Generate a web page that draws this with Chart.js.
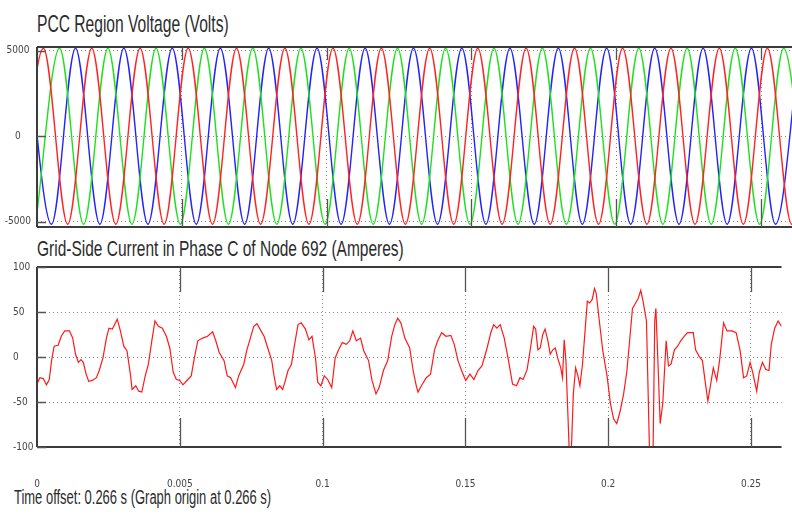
<!DOCTYPE html>
<html>
<head>
<meta charset="utf-8">
<script src="https://cdn.jsdelivr.net/npm/chart.js@4.4.0/dist/chart.umd.min.js"></script>
<style>
  body { margin: 0; background: #fff; width: 792px; height: 518px; overflow: hidden; position: relative;
         font-family: "Liberation Sans", Arial, sans-serif; }
  .cap { position: absolute; color: #2b2b2b; white-space: nowrap; transform-origin: 0 0; }
  #t1 { left: 37px; top: 12px; font-size: 24px; line-height: 24px; transform: scaleX(0.65); }
  #t2 { left: 37px; top: 238px; font-size: 22px; line-height: 22px; transform: scaleX(0.704); }
  #foot { left: 14px; top: 487px; font-size: 20px; line-height: 20px; transform: scaleX(0.648); }
  .panel { position: absolute; left: 0; }
  #p1 { top: 0; }
  #p2 { top: 240px; }
</style>
</head>
<body>
<div class="cap" id="t1">PCC Region Voltage (Volts)</div>
<div class="cap" id="t2">Grid-Side Current in Phase C of Node 692 (Amperes)</div>
<div class="cap" id="foot">Time offset: 0.266 s (Graph origin at 0.266 s)</div>
<div class="panel" id="p1"><canvas id="voltage" width="792" height="240"></canvas></div>
<div class="panel" id="p2"><canvas id="current" width="792" height="278"></canvas></div>

<script>
// x axis (seconds after the graph origin)
const xTickValues = [0, 0.05, 0.1, 0.15, 0.2, 0.25];
const xTickLabels = ["0", "0.005", "0.1", "0.15", "0.2", "0.25"];
const xMax = 0.2607;

// voltage: times of the peaks / troughs of each phase
const redT = [-0.0061, 0.0022, 0.0106, 0.0189, 0.0272, 0.0356, 0.0439, 0.0522, 0.0606, 0.0689, 0.0772, 0.0856,
  0.0939, 0.1022, 0.1106, 0.1189, 0.1272, 0.1356, 0.1439, 0.1522, 0.1606, 0.1689, 0.1772, 0.1856, 0.1939,
  0.2022, 0.2106, 0.2189, 0.2272, 0.2356, 0.2439, 0.2522, 0.2606, 0.2689];
const redV = [-5150, 5150, -5150, 5150, -5150, 5150, -5150, 5150, -5150, 5150, -5150, 5150, -5150, 5150, -5150,
  5150, -5150, 5150, -5150, 5150, -5150, 5150, -5150, 5150, -5150, 5150, -5150, 5150, -5150, 5150, -5150, 5150,
  -5150, 5150];
const greenT = [-0.0005, 0.0078, 0.0161, 0.0245, 0.0328, 0.0411, 0.0495, 0.0578, 0.0661, 0.0745, 0.0828, 0.0911,
  0.0995, 0.1078, 0.1161, 0.1245, 0.1328, 0.1411, 0.1495, 0.1578, 0.1661, 0.1745, 0.1828, 0.1911, 0.1995,
  0.2078, 0.2161, 0.2245, 0.2328, 0.2411, 0.2495, 0.2578, 0.2661];
const greenV = [-5150, 5150, -5150, 5150, -5150, 5150, -5150, 5150, -5150, 5150, -5150, 5150, -5150, 5150, -5150,
  5150, -5150, 5150, -5150, 5150, -5150, 5150, -5150, 5150, -5150, 5150, -5150, 5150, -5150, 5150, -5150, 5150,
  -5150];
const blueT = [-0.0033, 0.0050, 0.0133, 0.0217, 0.0300, 0.0383, 0.0467, 0.0550, 0.0633, 0.0717, 0.0800, 0.0883,
  0.0967, 0.1050, 0.1133, 0.1217, 0.1300, 0.1383, 0.1467, 0.1550, 0.1633, 0.1717, 0.1800, 0.1883, 0.1967,
  0.2050, 0.2133, 0.2217, 0.2300, 0.2383, 0.2467, 0.2550, 0.2633];
const blueV = [5150, -5150, 5150, -5150, 5150, -5150, 5150, -5150, 5150, -5150, 5150, -5150, 5150, -5150, 5150,
  -5150, 5150, -5150, 5150, -5150, 5150, -5150, 5150, -5150, 5150, -5150, 5150, -5150, 5150, -5150, 5150, -5150,
  5150];
const voltTicks = [-5000, 0, 5000];

// grid-side current, phase C
const currentT = [0.0000, 0.0010, 0.0022, 0.0033, 0.0043, 0.0051, 0.0060, 0.0074, 0.0085, 0.0097, 0.0114, 0.0125,
  0.0135, 0.0145, 0.0154, 0.0162, 0.0172, 0.0181, 0.0194, 0.0208, 0.0218, 0.0231, 0.0243, 0.0252, 0.0264, 0.0281,
  0.0292, 0.0304, 0.0315, 0.0327, 0.0333, 0.0346, 0.0356, 0.0367, 0.0379, 0.0390, 0.0402, 0.0413, 0.0425, 0.0439,
  0.0453, 0.0465, 0.0477, 0.0488, 0.0500, 0.0511, 0.0528, 0.0540, 0.0551, 0.0563, 0.0580, 0.0597, 0.0615, 0.0626,
  0.0638, 0.0655, 0.0666, 0.0678, 0.0695, 0.0706, 0.0724, 0.0735, 0.0747, 0.0759, 0.0770, 0.0781, 0.0795, 0.0810,
  0.0822, 0.0830, 0.0839, 0.0850, 0.0860, 0.0868, 0.0879, 0.0891, 0.0902, 0.0914, 0.0925, 0.0940, 0.0952, 0.0963,
  0.0975, 0.0983, 0.0994, 0.1006, 0.1018, 0.1032, 0.1044, 0.1056, 0.1069, 0.1083, 0.1095, 0.1106, 0.1118, 0.1133,
  0.1144, 0.1161, 0.1173, 0.1187, 0.1198, 0.1213, 0.1228, 0.1242, 0.1253, 0.1263, 0.1274, 0.1288, 0.1305, 0.1317,
  0.1328, 0.1334, 0.1346, 0.1363, 0.1378, 0.1392, 0.1403, 0.1417, 0.1432, 0.1449, 0.1461, 0.1474, 0.1489, 0.1501,
  0.1516, 0.1530, 0.1544, 0.1558, 0.1576, 0.1589, 0.1599, 0.1610, 0.1622, 0.1636, 0.1651, 0.1665, 0.1679, 0.1691,
  0.1702, 0.1716, 0.1728, 0.1739, 0.1746, 0.1754, 0.1762, 0.1771, 0.1779, 0.1789, 0.1797, 0.1806, 0.1815, 0.1823,
  0.1834, 0.1840, 0.1846, 0.1852, 0.1858, 0.1866, 0.1872, 0.1878, 0.1886, 0.1894, 0.1901, 0.1910, 0.1919, 0.1927,
  0.1935, 0.1944, 0.1952, 0.1958, 0.1969, 0.1981, 0.1996, 0.2008, 0.2019, 0.2030, 0.2042, 0.2054, 0.2065, 0.2077,
  0.2085, 0.2096, 0.2105, 0.2114, 0.2122, 0.2134, 0.2140, 0.2145, 0.2151, 0.2157, 0.2163, 0.2167, 0.2174, 0.2182,
  0.2191, 0.2203, 0.2211, 0.2220, 0.2232, 0.2243, 0.2254, 0.2266, 0.2278, 0.2289, 0.2298, 0.2306, 0.2318, 0.2330,
  0.2339, 0.2349, 0.2359, 0.2368, 0.2380, 0.2390, 0.2404, 0.2416, 0.2433, 0.2448, 0.2462, 0.2474, 0.2485, 0.2497,
  0.2506, 0.2520, 0.2529, 0.2540, 0.2552, 0.2563, 0.2571, 0.2583, 0.2595, 0.2607];
const currentA = [-30, -23, -24, -31, -25, -4, 12, 13, 23, 29, 29, 21,
  3, -6, -3, -6, -19, -27, -26, -23, -15, -1, 21, 32, 31, 42,
  29, 12, 7, -19, -36, -32, -38, -39, -21, -8, 18, 40, 34, 32,
  23, 10, -17, -25, -26, -31, -25, -21, -1, 18, 21, 23, 28, 18,
  5, -4, -21, -23, -34, -21, -8, 8, 21, 34, 37, 31, 23, 8,
  -4, -21, -36, -32, -36, -28, -15, -8, 14, 36, 38, 31, 19, 23,
  -1, -28, -32, -21, -25, -34, -1, 8, 16, 14, 18, 29, 18, 21,
  7, -4, -26, -41, -34, -15, -4, 23, 36, 43, 38, 21, 10, -15,
  -32, -39, -32, -23, -19, 8, 18, 27, 23, 24, 14, -4, -17, -26,
  -19, -25, -15, -10, 10, 27, 36, 32, 36, 21, -4, -30, -32, -23,
  -25, -14, 10, 34, 31, 8, 10, 25, 31, 18, 3, 8, 10, -1,
  -12, -23, 19, -4, -56, -125, -95, -41, -12, -21, -32, -8, 29, 62,
  60, 64, 76, 71, 40, 7, -21, -52, -69, -74, -60, -41, -17, 25,
  54, 60, 65, 74, 62, 40, -41, -110, -130, -110, 40, 54, -4, -74,
  -52, 18, -10, -8, 8, 12, 18, 23, 27, 27, 27, 8, 1, -4,
  -26, -49, -30, -12, -26, -4, 38, 29, 29, 27, 7, -23, -21, -6,
  -17, -38, -17, -6, -14, -15, 14, 32, 40, 34];
const currentTicks = [-100, -50, 0, 50, 100];

const tickFont = { family: "'Liberation Sans Narrow', 'Arial Narrow', 'DejaVu Sans Condensed', sans-serif", size: 10 };

// box, inner tick marks (solid segments at the ends of the dotted grid)
const framePlugin = {
  id: "frame",
  afterDraw(chart, args, opts) {
    const { ctx, chartArea: a, scales: { x, y } } = chart;
    ctx.save();
    ctx.strokeStyle = "#3c3c3c";
    ctx.lineWidth = 2;
    ctx.beginPath();
    ctx.moveTo(a.left, a.top); ctx.lineTo(a.right, a.top);
    ctx.moveTo(a.left, a.bottom); ctx.lineTo(a.right, a.bottom);
    ctx.moveTo(a.left, a.top); ctx.lineTo(a.left, a.bottom);
    ctx.stroke();
    ctx.lineWidth = 1.3;
    ctx.strokeStyle = "#555";
    ctx.beginPath();
    x.ticks.forEach((t) => {
      if (t.value <= x.min) return;
      const px = Math.round(x.getPixelForValue(t.value)) + 0.5;
      ctx.moveTo(px, a.top); ctx.lineTo(px, a.top + opts.topLen);
      ctx.moveTo(px, a.bottom); ctx.lineTo(px, a.bottom - opts.bottomLen);
    });
    y.ticks.forEach((t) => {
      const py = Math.round(y.getPixelForValue(t.value)) + 0.5;
      ctx.moveTo(a.left, py); ctx.lineTo(a.left + 9, py);
    });
    ctx.stroke();
    ctx.restore();
  },
};

function xScale(showLabels) {
  return {
    type: "linear",
    min: 0,
    max: xMax,
    afterBuildTicks: (axis) => { axis.ticks = xTickValues.map((v) => ({ value: v })); },
    afterFit: (axis) => { axis.height = showLabels ? 71 : 0; },
    grid: { color: "#8a8a8a", lineWidth: 1, drawTicks: false },
    border: { display: false, dash: [1, 3] },
    ticks: {
      display: showLabels,
      padding: 31,
      maxRotation: 0,
      autoSkip: false,
      color: "#444",
      font: tickFont,
      callback: (value, index) => xTickLabels[index],
    },
  };
}

new Chart(document.getElementById("voltage"), {
  type: "line",
  data: {
    datasets: [
      { data: redT.map((t, i) => ({ x: t, y: redV[i] })), borderColor: "rgb(255,35,35)" },
      { data: greenT.map((t, i) => ({ x: t, y: greenV[i] })), borderColor: "rgb(30,225,30)" },
      { data: blueT.map((t, i) => ({ x: t, y: blueV[i] })), borderColor: "rgb(35,35,255)" },
    ].map((d) => ({ ...d, borderWidth: 1.4, pointRadius: 0, cubicInterpolationMode: "monotone" })),
  },
  options: {
    responsive: false,
    animation: false,
    devicePixelRatio: 1,
    layout: { padding: { top: 47, bottom: 13, left: 0, right: 0 } },
    plugins: { legend: { display: false }, tooltip: { enabled: false }, frame: { topLen: 13, bottomLen: 28 } },
    scales: {
      x: xScale(false),
      y: {
        min: -5310,
        max: 5220,
        afterBuildTicks: (axis) => { axis.ticks = voltTicks.map((v) => ({ value: v })); },
        afterFit: (axis) => { axis.width = 37; },
        grid: { color: "#8a8a8a", lineWidth: 1, drawTicks: false },
        border: { display: false, dash: [1, 3] },
        ticks: { color: "#444", font: tickFont, padding: 6, crossAlign: "center", callback: (v) => String(v) },
      },
    },
  },
  plugins: [framePlugin],
});

new Chart(document.getElementById("current"), {
  type: "line",
  data: {
    datasets: [{
      data: currentT.map((t, i) => ({ x: t, y: currentA[i] })),
      borderColor: "rgb(255,25,25)",
      borderWidth: 1.2,
      pointRadius: 0,
      tension: 0,
    }],
  },
  options: {
    responsive: false,
    animation: false,
    devicePixelRatio: 1,
    layout: { padding: { top: 27, bottom: 0, left: 13, right: 0 } },
    plugins: { legend: { display: false }, tooltip: { enabled: false }, frame: { topLen: 25, bottomLen: 29 } },
    scales: {
      x: xScale(true),
      y: {
        min: -100,
        max: 100,
        afterBuildTicks: (axis) => { axis.ticks = currentTicks.map((v) => ({ value: v })); },
        afterFit: (axis) => { axis.width = 24; },
        grid: { color: (c) => (Math.abs(c.tick.value) === 100 ? "rgba(0,0,0,0)" : "#8a8a8a"), lineWidth: 1, drawTicks: false },
        border: { display: false, dash: [1, 3] },
        ticks: { color: "#444", font: tickFont, padding: 4, crossAlign: "far", callback: (v) => String(v) },
      },
    },
  },
  plugins: [framePlugin],
});
</script>
</body>
</html>
